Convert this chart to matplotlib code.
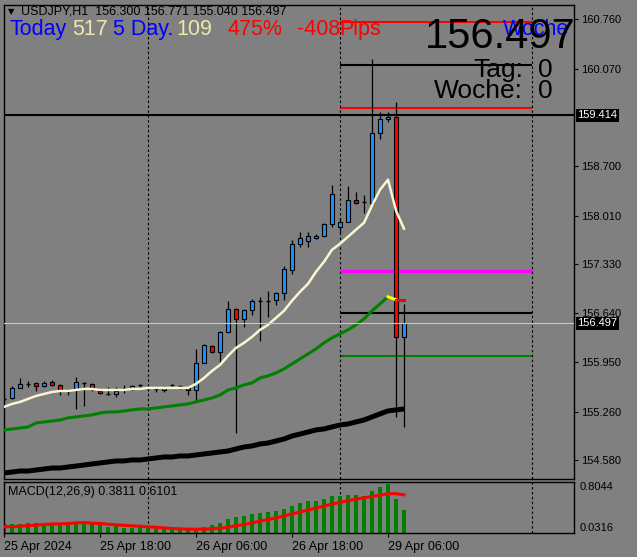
import numpy as np
import matplotlib
matplotlib.use('Agg')
import matplotlib.pyplot as plt
from matplotlib.patches import Rectangle

# velas USDJPY H1 (25 Apr 06:00 .. 29 Apr 08:00)
opens = [155.437, 155.451, 155.592, 155.648, 155.662, 155.620, 155.676, 155.634, 155.549, 155.563,
         155.662, 155.648, 155.549, 155.507, 155.507, 155.578, 155.578, 155.634, 155.592, 155.578,
         155.563, 155.634, 155.620, 155.592, 155.563, 155.943, 156.181, 156.097, 156.378, 156.701,
         156.561, 156.687, 156.814, 156.814, 156.828, 156.926, 157.249, 157.614, 157.656, 157.698,
         157.726, 157.895, 157.853, 157.923, 158.232, 158.204, 158.190, 159.173, 159.370, 159.398,
         156.300]
highs = [155.521, 155.620, 155.732, 155.690, 155.676, 155.690, 155.704, 155.648, 155.578, 155.746,
         155.676, 155.662, 155.563, 155.606, 155.606, 155.634, 155.634, 155.648, 155.620, 155.606,
         155.620, 155.648, 155.634, 155.606, 156.139, 156.210, 156.196, 156.392, 156.814, 156.715,
         156.701, 156.842, 156.870, 156.954, 156.940, 157.305, 157.670, 157.783, 157.783, 157.755,
         157.909, 158.443, 157.979, 158.429, 158.344, 158.302, 160.212, 159.468, 159.468, 159.608,
         156.771]
lows = [155.395, 155.437, 155.592, 155.606, 155.549, 155.606, 155.620, 155.493, 155.493, 155.297,
        155.339, 155.549, 155.507, 155.493, 155.465, 155.521, 155.563, 155.606, 155.578, 155.535,
        155.535, 155.606, 155.578, 155.493, 155.395, 155.943, 156.083, 155.943, 156.362, 154.960,
        156.448, 156.617, 156.252, 156.589, 156.757, 156.828, 157.193, 157.572, 157.572, 157.684,
        157.712, 157.853, 157.769, 157.923, 158.176, 158.049, 158.190, 159.089, 159.327, 155.184,
        155.040]
closes = [155.437, 155.592, 155.648, 155.648, 155.620, 155.662, 155.634, 155.563, 155.549, 155.676,
          155.662, 155.592, 155.521, 155.507, 155.549, 155.578, 155.620, 155.634, 155.592, 155.578,
          155.606, 155.634, 155.592, 155.563, 155.943, 156.196, 156.097, 156.378, 156.701, 156.561,
          156.687, 156.814, 156.814, 156.814, 156.926, 157.263, 157.614, 157.698, 157.726, 157.726,
          157.895, 158.316, 157.923, 158.232, 158.190, 158.204, 159.173, 159.370, 159.398, 156.300,
          156.497]

# medias moviles
ma_fast = [155.325, 155.367, 155.395, 155.437, 155.479, 155.507, 155.535, 155.549, 155.549, 155.563,
           155.578, 155.578, 155.563, 155.563, 155.563, 155.563, 155.578, 155.578, 155.592, 155.592,
           155.592, 155.592, 155.592, 155.592, 155.648, 155.732, 155.830, 155.915, 156.041, 156.153,
           156.224, 156.308, 156.406, 156.476, 156.575, 156.673, 156.814, 156.940, 157.052, 157.221,
           157.361, 157.530, 157.614, 157.712, 157.811, 157.909, 158.148, 158.372, 158.513, 158.078,
           157.825]
ma_mid = [155.002, 155.016, 155.030, 155.044, 155.100, 155.114, 155.128, 155.142, 155.171, 155.185,
          155.199, 155.213, 155.240, 155.254, 155.254, 155.268, 155.283, 155.297, 155.297, 155.311,
          155.325, 155.339, 155.353, 155.367, 155.395, 155.423, 155.451, 155.493, 155.563, 155.592,
          155.634, 155.662, 155.732, 155.760, 155.802, 155.858, 155.929, 155.999, 156.069, 156.139,
          156.224, 156.294, 156.350, 156.406, 156.476, 156.561, 156.673, 156.771, 156.870, 156.828,
          156.828]
ma_slow = [154.398, 154.412, 154.426, 154.426, 154.440, 154.454, 154.468, 154.468, 154.482, 154.496,
           154.510, 154.525, 154.539, 154.553, 154.567, 154.567, 154.581, 154.581, 154.595, 154.609,
           154.623, 154.623, 154.637, 154.637, 154.651, 154.665, 154.679, 154.693, 154.707, 154.735,
           154.763, 154.777, 154.805, 154.819, 154.847, 154.875, 154.917, 154.945, 154.973, 155.002,
           155.016, 155.044, 155.072, 155.086, 155.114, 155.142, 155.185, 155.227, 155.269, 155.283,
           155.297]

# MACD(12,26,9)
macd_main = [0.168, 0.173, 0.173, 0.183, 0.183, 0.168, 0.157, 0.163, 0.157, 0.188,
             0.194, 0.179, 0.173, 0.127, 0.142, 0.112, 0.103, 0.118, 0.103, 0.092,
             0.092, 0.088, 0.088, 0.077, 0.088, 0.118, 0.153, 0.188, 0.239, 0.269,
             0.289, 0.319, 0.335, 0.350, 0.365, 0.400, 0.441, 0.482, 0.512, 0.521,
             0.547, 0.592, 0.592, 0.607, 0.607, 0.592, 0.668, 0.724, 0.770, 0.547,
             0.381]
macd_signal = [0.127, 0.127, 0.135, 0.142, 0.150, 0.160, 0.168, 0.170, 0.175, 0.185,
               0.190, 0.180, 0.175, 0.165, 0.155, 0.148, 0.140, 0.135, 0.125, 0.118,
               0.108, 0.100, 0.095, 0.090, 0.088, 0.090, 0.095, 0.105, 0.120, 0.140,
               0.160, 0.185, 0.210, 0.235, 0.260, 0.290, 0.320, 0.350, 0.380, 0.410,
               0.440, 0.470, 0.495, 0.520, 0.545, 0.565, 0.585, 0.605, 0.625, 0.628,
               0.610]

date_ticks = [0, 12, 24, 36, 48]
date_labels = ['25 Apr 2024', '25 Apr 18:00', '26 Apr 06:00', '26 Apr 18:00', '29 Apr 06:00']
day_breaks = [18, 42, 66]
price_ticks = [160.760, 160.070, 158.700, 158.010, 157.330, 156.640, 155.950, 155.260, 154.580]

# niveles del dia (29 Apr)
levels = [160.722, 160.118, 159.514, 157.231, 156.649, 156.041]
level_colors = ['red', 'black', 'red', 'magenta', 'black', 'green']
level_widths = [1.5, 1.5, 1.5, 2.3, 1.5, 1.5]
day_start, day_end = 42, 66
hline_price = 159.414
bid = 156.497

GRIS = '#808080'
plt.rcParams['font.family'] = ['Liberation Sans', 'DejaVu Sans']

W, H = 637, 557
fig = plt.figure(figsize=(W / 100, H / 100), dpi=100, facecolor=GRIS)


def px(x, y):
    return x / W, 1 - y / H


ax = fig.add_axes([4 / W, 1 - 479 / H, 570 / W, 474 / H], facecolor=GRIS)
ax2 = fig.add_axes([4 / W, 1 - 533 / H, 570 / W, 51 / H], facecolor=GRIS)

n = len(closes)
x = np.arange(n)

# lineas horizontales
ax.hlines(levels, day_start, day_end, colors=level_colors, linewidths=level_widths, zorder=1)
ax.axhline(hline_price, color='black', lw=1.5, zorder=1)

# velas
for i in range(n):
    o, h, l, c = opens[i], highs[i], lows[i], closes[i]
    ax.vlines(i, l, h, color='black', lw=0.9, zorder=2)
    if abs(c - o) < 0.005:
        ax.hlines(c, i - 0.3, i + 0.3, color='black', lw=1.0, zorder=2)
    else:
        col = '#1E90FF' if c > o else '#FF0000'
        ax.add_patch(Rectangle((i - 0.3, min(o, c)), 0.6, abs(c - o),
                               facecolor=col, edgecolor='black', lw=0.8, zorder=2))

ax.plot(x, ma_slow, color='black', lw=3.6, zorder=3, solid_capstyle='butt')
ax.plot(x[:49], ma_mid[:49], color='#008000', lw=2.2, zorder=3)
ax.plot(x[48:50], ma_mid[48:50], color='yellow', lw=2.2, zorder=3)
ax.plot(x[49:51], ma_mid[49:51], color='red', lw=2.2, zorder=3)
ax.plot(x, ma_fast, color='#FAF5D2', lw=1.8, zorder=3)
ax.axhline(bid, color='#C8C8C8', lw=0.8, zorder=4)

for a in (ax, ax2):
    for d in day_breaks:
        a.axvline(d, color='black', lw=0.8, dashes=(2.2, 2.2), zorder=1)
    for s in a.spines.values():
        s.set_color('black')
        s.set_linewidth(1)
    a.set_xlim(0, 71.25)

ax.set_ylim(154.314, 160.963)
ax.yaxis.tick_right()
ax.set_yticks(price_ticks)
ax.set_yticklabels(['%.3f' % p for p in price_ticks])
ax.tick_params(axis='y', length=3, width=0.8, pad=2, labelsize=8, colors='black')
ax.set_xticks([])

# cajas de precio en el eje
for p in (hline_price, bid):
    ax.annotate('%.3f' % p, xy=(1.0, p), xycoords=('axes fraction', 'data'),
                xytext=(2.5, 0), textcoords='offset points', ha='left', va='center',
                fontsize=8, color='white', annotation_clip=False,
                bbox=dict(boxstyle='square,pad=0.15', fc='black', ec='none'))

# MACD
ax2.bar(x, macd_main, width=0.5, color='#008000', zorder=2)
ax2.plot(x, macd_signal, color='red', lw=2.2, zorder=3)
ax2.set_ylim(0.0316, 0.8044)
ax2.yaxis.tick_right()
ax2.set_yticks([0.8044, 0.0316])
ax2.set_yticklabels(['0.8044', '0.0316'])
ax2.tick_params(axis='y', length=0, pad=4, labelsize=8)
yl = ax2.get_yticklabels()
yl[0].set_va('top')
yl[1].set_va('bottom')
ax2.set_xticks(date_ticks)
ax2.set_xticklabels(date_labels)
ax2.tick_params(axis='x', length=3, width=0.8, pad=3, labelsize=9)
for t in ax2.get_xticklabels():
    t.set_ha('left')

# textos
fig.text(*px(8, 12), '\u25bc', fontsize=6, va='center', family='DejaVu Sans')
fig.text(*px(21, 12), 'USDJPY,H1  156.300 156.771 155.040 156.497', fontsize=9, va='center')
fig.text(*px(8, 492), 'MACD(12,26,9) 0.3811 0.6101', fontsize=9, va='center')

big = 15.5
fig.text(*px(10, 35), 'Today', color='blue', fontsize=big, va='baseline')
fig.text(*px(72, 35), '517', color='#EEE8AA', fontsize=big, va='baseline')
fig.text(*px(113, 35), '5 Day.', color='blue', fontsize=big, va='baseline')
fig.text(*px(176, 35), '109', color='#EEE8AA', fontsize=big, va='baseline')
fig.text(*px(228, 35), '475%', color='red', fontsize=big, va='baseline')
fig.text(*px(297, 35), '-408', color='red', fontsize=big, va='baseline')
fig.text(*px(339, 35), 'Pips', color='red', fontsize=big, va='baseline')
fig.text(*px(503, 35), 'Woche', color='blue', fontsize=big, va='baseline')
fig.text(*px(425, 48), '156.497', color='black', fontsize=30, va='baseline')
fig.text(*px(523, 77), 'Tag:', color='black', fontsize=19, va='baseline', ha='right')
fig.text(*px(538, 77), '0', color='black', fontsize=19, va='baseline')
fig.text(*px(523, 98), 'Woche:', color='black', fontsize=19, va='baseline', ha='right')
fig.text(*px(538, 98), '0', color='black', fontsize=19, va='baseline')

fig.savefig('out.png', dpi=100, facecolor=GRIS)
